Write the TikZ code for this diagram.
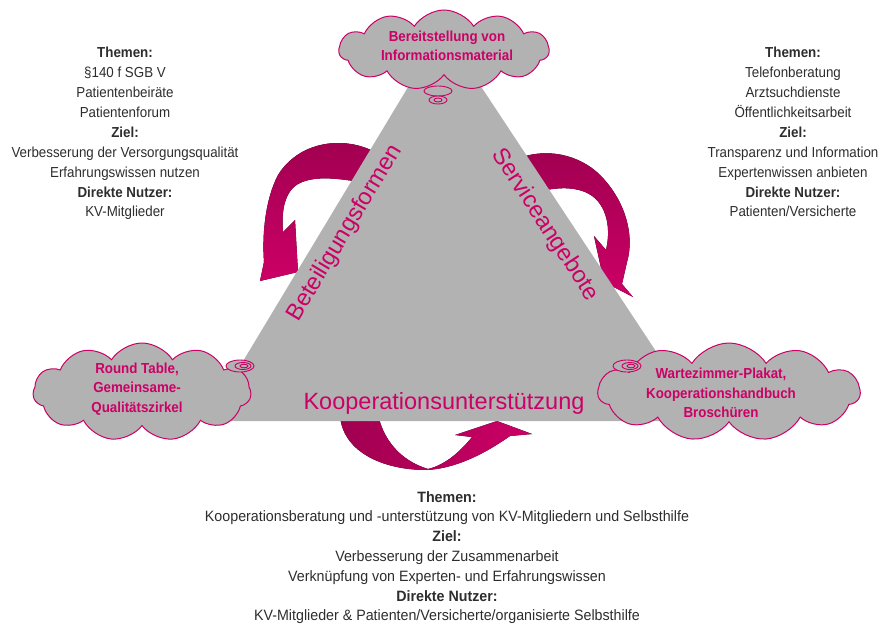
\documentclass[tikz,border=0pt]{standalone}
\usepackage{fontspec}
\setmainfont{Liberation Sans}
\newfontfamily\narrow{Liberation Sans}[FakeStretch=0.92]
\newfontfamily\narrowb{Liberation Sans}[FakeStretch=0.95]
\usetikzlibrary{shapes.symbols}
\definecolor{mag}{RGB}{204,0,102}
\definecolor{magdark}{RGB}{160,0,80}
\definecolor{tri}{RGB}{178,178,178}
\definecolor{txt}{RGB}{45,45,45}
\tikzset{
  info/.style={align=center, text=txt, inner sep=0pt, anchor=north,
    font=\narrow\fontsize{14.5}{19.9}\selectfont},
  infob/.style={align=center, text=txt, inner sep=0pt, anchor=north,
    font=\narrowb\fontsize{15}{19.8}\selectfont},
  cloudbox/.style={cloud, cloud puffs=11, cloud puff arc=115, cloud ignores aspect,
    draw=mag, line width=1pt, fill=tri, inner sep=0pt},
  cloudtext/.style={align=center, text=mag, inner sep=0pt,
    font=\narrow\bfseries\fontsize{14.5}{19.5}\selectfont},
  sidelabel/.style={text=mag, inner sep=0pt, font=\fontsize{23.5}{26}\selectfont},
  bubble/.style={draw=mag, line width=0.9pt, fill=tri},
  bigarrow/.style={draw=none}
}
\begin{document}
\begin{tikzpicture}[x=1pt,y=-1pt]
\useasboundingbox (0,0) rectangle (882,623);

% curved arrows (drawn below the triangle so tails vanish under it)
\fill[bigarrow, top color=magdark, bottom color=mag]
  (375,152) .. controls (345,136) and (300,140) .. (278,175)
  .. controls (265,200) and (262,235) .. (264,262) -- (260,281) -- (298,272) -- (295,220) -- (283,232)
  .. controls (281,210) and (285,190) .. (300,183)
  .. controls (315,176) and (335,178) .. (360,182) -- cycle;
\fill[bigarrow, top color=magdark, bottom color=mag]
  (515,160) .. controls (545,146) and (580,155) .. (600,175)
  .. controls (625,200) and (635,235) .. (627,262) -- (622,284) -- (633,297) -- (604,282) -- (594,236) -- (606,250)
  .. controls (612,225) and (605,200) .. (585,192)
  .. controls (570,186) and (555,188) .. (535,192) -- cycle;
\fill[bigarrow, left color=magdark, right color=mag]
  (340,415) .. controls (342,450) and (380,470) .. (427,470)
  .. controls (460,468) and (490,450) .. (510,436) -- (532,434) -- (497,421) -- (455,435) -- (472,437)
  .. controls (460,452) and (445,465) .. (428,469)
  .. controls (405,462) and (385,445) .. (378,415) -- cycle;

% triangle
\fill[tri] (443,29) coordinate (apex) -- (207,421) coordinate (bl) -- (702,421) coordinate (br) -- cycle;

% side labels
\node[sidelabel, rotate=59] (lbeteil) at (345,233) {Beteiligungsformen};
\node[sidelabel, rotate=-57] (lservice) at (545,225) {Serviceangebote};
\node[sidelabel] (lkoop) at (444,403) {Kooperationsunterstützung};

% clouds
\node[cloudbox, minimum width=210pt, minimum height=80pt] (ctop) at (444,50) {};
\node[cloudtext] (ttop) at (447,46) {Bereitstellung von\\Informationsmaterial};
\draw[bubble] (438,91) ellipse [x radius=14pt, y radius=5pt];
\draw[bubble] (438,100) ellipse [x radius=9pt, y radius=4pt];
\draw[bubble] (438,100) ellipse [x radius=4pt, y radius=2pt];

\node[cloudbox, minimum width=218pt, minimum height=98pt] (cleft) at (142,392) {};
\node[cloudtext] (tleft) at (137,389) {Round Table,\\Gemeinsame-\\Qualitätszirkel};
\draw[bubble] (240,366) ellipse [x radius=14pt, y radius=6pt];
\draw[bubble] (243,366) ellipse [x radius=8pt, y radius=3.5pt];
\draw[bubble] (244,366) ellipse [x radius=4pt, y radius=1.8pt];

\node[cloudbox, minimum width=262pt, minimum height=98pt] (cright) at (729,392) {};
\node[cloudtext] (tright) at (721,393) {Wartezimmer-Plakat,\\Kooperationshandbuch\\Broschüren};
\draw[bubble] (627,366) ellipse [x radius=14pt, y radius=6pt];
\draw[bubble] (630,366) ellipse [x radius=8pt, y radius=3.5pt];
\draw[bubble] (631,366) ellipse [x radius=4pt, y radius=1.8pt];

% info texts
\node[info] (ileft) at (125,47) {\textbf{Themen:}\\§140 f SGB V\\Patientenbeiräte\\Patientenforum\\\textbf{Ziel:}\\Verbesserung der Versorgungsqualität\\Erfahrungswissen nutzen\\\textbf{Direkte Nutzer:}\\KV-Mitglieder};
\node[info] (iright) at (793,47) {\textbf{Themen:}\\Telefonberatung\\Arztsuchdienste\\Öffentlichkeitsarbeit\\\textbf{Ziel:}\\Transparenz und Information\\Expertenwissen anbieten\\\textbf{Direkte Nutzer:}\\Patienten/Versicherte};
\node[infob] (ibottom) at (447,491) {\textbf{Themen:}\\Kooperationsberatung und -unterstützung von KV-Mitgliedern und Selbsthilfe\\\textbf{Ziel:}\\Verbesserung der Zusammenarbeit\\Verknüpfung von Experten- und Erfahrungswissen\\\textbf{Direkte Nutzer:}\\KV-Mitglieder \& Patienten/Versicherte/organisierte Selbsthilfe};
\end{tikzpicture}
\end{document}
